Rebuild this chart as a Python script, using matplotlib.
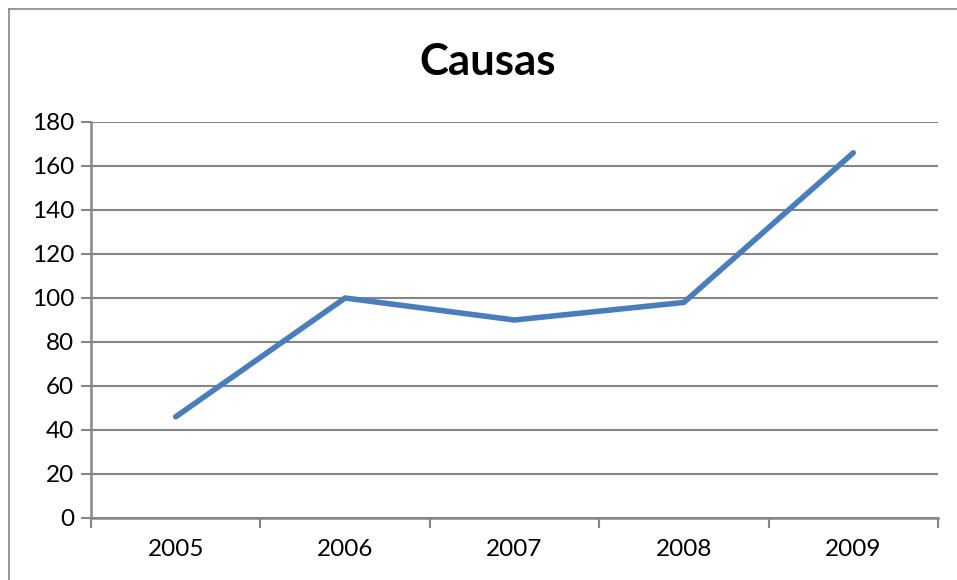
import matplotlib
matplotlib.use("Agg")
import matplotlib.pyplot as plt
from matplotlib.lines import Line2D
import numpy as np

years = ["2005", "2006", "2007", "2008", "2009"]
causas = [46, 100, 90, 98, 166]
y_ticks = [0, 20, 40, 60, 80, 100, 120, 140, 160, 180]

plt.rcParams['font.family'] = ['Lato', 'DejaVu Sans']

fig = plt.figure(figsize=(9.57, 5.8), dpi=100)
ax = fig.add_axes([91/957, 1-518/580, (938-91)/957, (518-122)/580])

grid_c = "#868686"
x = np.arange(len(years))
ax.plot(x, causas, color="#4A7EBB", lw=4.0, solid_capstyle="round", solid_joinstyle="round", zorder=3)

ax.set_xlim(-0.5, len(years) - 0.5)
ax.set_ylim(0, 180)
ax.set_yticks(y_ticks)
ax.set_yticklabels([str(v) for v in y_ticks], fontsize=17.5)
ax.yaxis.grid(True, color=grid_c, lw=1.5)
ax.set_axisbelow(True)

ax.set_xticks(np.arange(-0.5, len(years)), minor=False)
ax.set_xticklabels([])
ax.set_xticks(x, minor=True)
ax.set_xticklabels(years, minor=True, fontsize=17.5)
ax.tick_params(axis="x", which="minor", length=0, pad=15)
ax.tick_params(axis="x", which="major", length=7, width=1.5, color=grid_c, direction="out")
ax.tick_params(axis="y", length=7, width=1.5, color=grid_c, direction="out", pad=5)

for s in ["top", "right"]:
    ax.spines[s].set_visible(False)
for s in ["left", "bottom"]:
    ax.spines[s].set_color(grid_c)
    ax.spines[s].set_linewidth(1.8)

fig.text(488/957, 1-62/580, "Causas", ha="center", va="center", fontsize=31.5, fontweight="bold")

# chart border (top and left visible)
fig.add_artist(Line2D([9/957, 1], [1-9/580, 1-9/580], color=grid_c, lw=1.2, transform=fig.transFigure))
fig.add_artist(Line2D([9/957, 9/957], [0, 1-9/580], color=grid_c, lw=1.2, transform=fig.transFigure))

fig.savefig("out.png", dpi=100)
